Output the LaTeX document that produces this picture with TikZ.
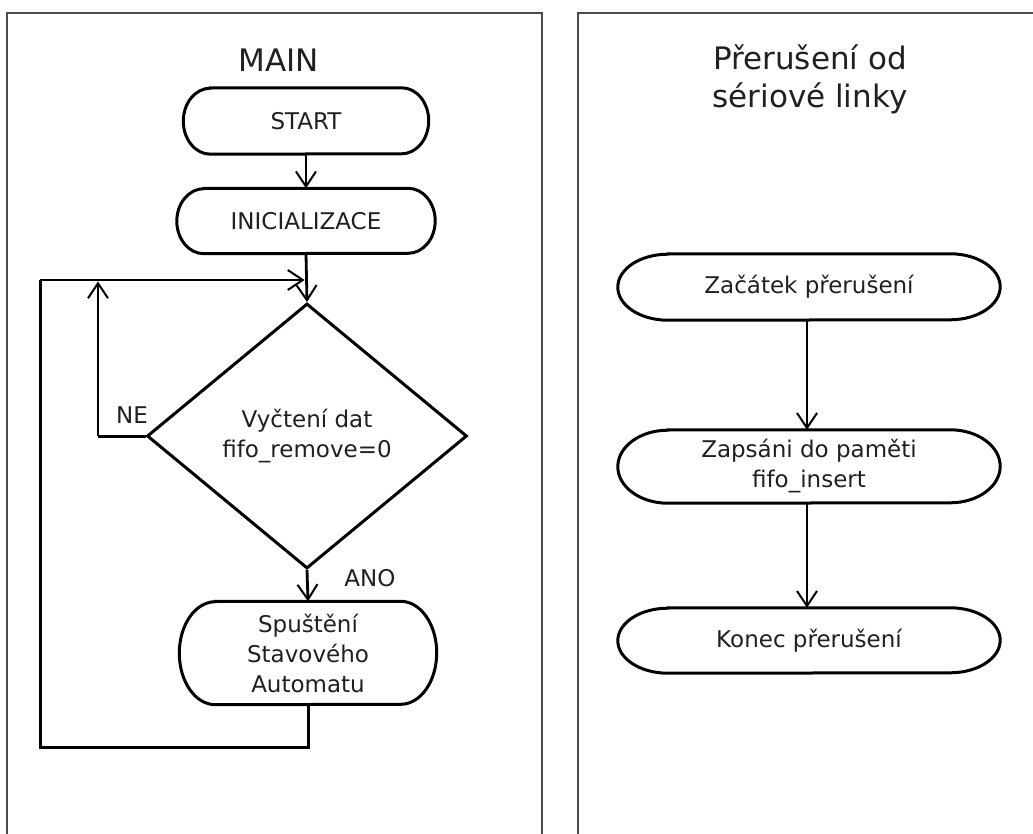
\documentclass[tikz,border=0pt]{standalone}
\usepackage{fontspec}
\setmainfont{DejaVu Sans}
\usetikzlibrary{arrows.meta,shapes.geometric}

\definecolor{ink}{HTML}{202020}

% outline of a terminal box: node name, end x-radius, end y-radius
\newcommand\capsule[3]{%
  \draw[shapeline] ([xshift=#2]#1.north west) -- ([xshift=-#2]#1.north east)
    arc[start angle=90,end angle=-90,x radius=#2,y radius=#3]
    -- ([xshift=#2]#1.south west)
    arc[start angle=270,end angle=90,x radius=#2,y radius=#3] -- cycle;}

\begin{document}
\begin{tikzpicture}[x=1pt,y=1pt,
  panel/.style={draw=black!70,line width=1.5pt},
  shapeline/.style={draw=black,line width=3pt},
  body/.style={text=ink,font=\fontsize{23}{30}\selectfont,align=center},
  heading/.style={text=ink,font=\fontsize{31}{38}\selectfont,align=center},
  termbox/.style={body,rectangle,inner sep=0pt},
  decision/.style={body,diamond,draw=black,line width=3pt,inner sep=0pt},
  flow/.style={draw=black,line width=2.8pt,
    -{Straight Barb[length=15pt,width=20pt,line width=2pt]}},
  link/.style={draw=black,line width=3pt}]

\useasboundingbox (0,0) rectangle (1033,-834);
\fill[white] (0,0) rectangle (1033,-834);

% panel frames
\draw[panel] (7,-834) -- (7,-13) -- (542,-13) -- (542,-834);
\draw[panel] (578,-834) -- (578,-13) -- (1033,-13);

% ---------- MAIN ----------
\node[heading] (mainT) at (279,-60) {MAIN};
\node[termbox,minimum width=245pt,minimum height=66pt] (start) at (306,-121) {START};
\node[termbox,minimum width=258pt,minimum height=65pt] (init) at (306,-221) {INICIALIZACE};
\node[decision,minimum width=320pt,minimum height=265pt] (dec) at (307,-436)
  {Vyčtení dat\\fifo\_remove=0};
\node[termbox,minimum width=257pt,minimum height=103pt] (run) at (308,-653)
  {Spuštění\\Stavového\\Automatu};

\capsule{start}{27pt}{33pt}
\capsule{init}{27pt}{32.5pt}
\capsule{run}{36pt}{51.5pt}

\coordinate (join) at (306,-280);
\coordinate (back) at (40,-280);
\coordinate (low) at (308,-747);
\coordinate (neturn) at (98,-436);
\coordinate (neup) at (98,-280);

\draw[flow] (start.south) -- (init.south |- start.south) -- (init.north);
\draw[flow] (init.south) -- (dec.north);
\draw[flow] (dec.south) -- (run.north);
\draw[link] (run.south) -- (low) -| (back);
\draw[flow,shorten >=1.4pt] (back) -- (join);
\draw[link] (dec.west) -- (neturn);
\draw[flow,shorten >=1.4pt] (neturn) -- (neup);

\node[body] (ne) at (132,-415) {NE};
\node[body] (ano) at (370,-578) {ANO};

% ---------- interrupt ----------
\node[heading] (irqT) at (810,-79) {Přerušení od\\sériové linky};
\node[termbox,minimum width=382pt,minimum height=66pt] (begin) at (809,-287)
  {Začátek přerušení};
\node[termbox,minimum width=382pt,minimum height=73pt] (store) at (809,-466.5)
  {Zapsáni do paměti\\fifo\_insert};
\node[termbox,minimum width=382pt,minimum height=65pt] (finish) at (809,-640.5)
  {Konec přerušení};

\capsule{begin}{50pt}{33pt}
\capsule{store}{50pt}{36.5pt}
\capsule{finish}{50pt}{32.5pt}

\draw[flow] ([xshift=-2pt]begin.south) -- ([xshift=-2pt]store.north);
\draw[flow] ([xshift=-2pt]store.south) -- ([xshift=-2pt]finish.north);
\end{tikzpicture}
\end{document}
